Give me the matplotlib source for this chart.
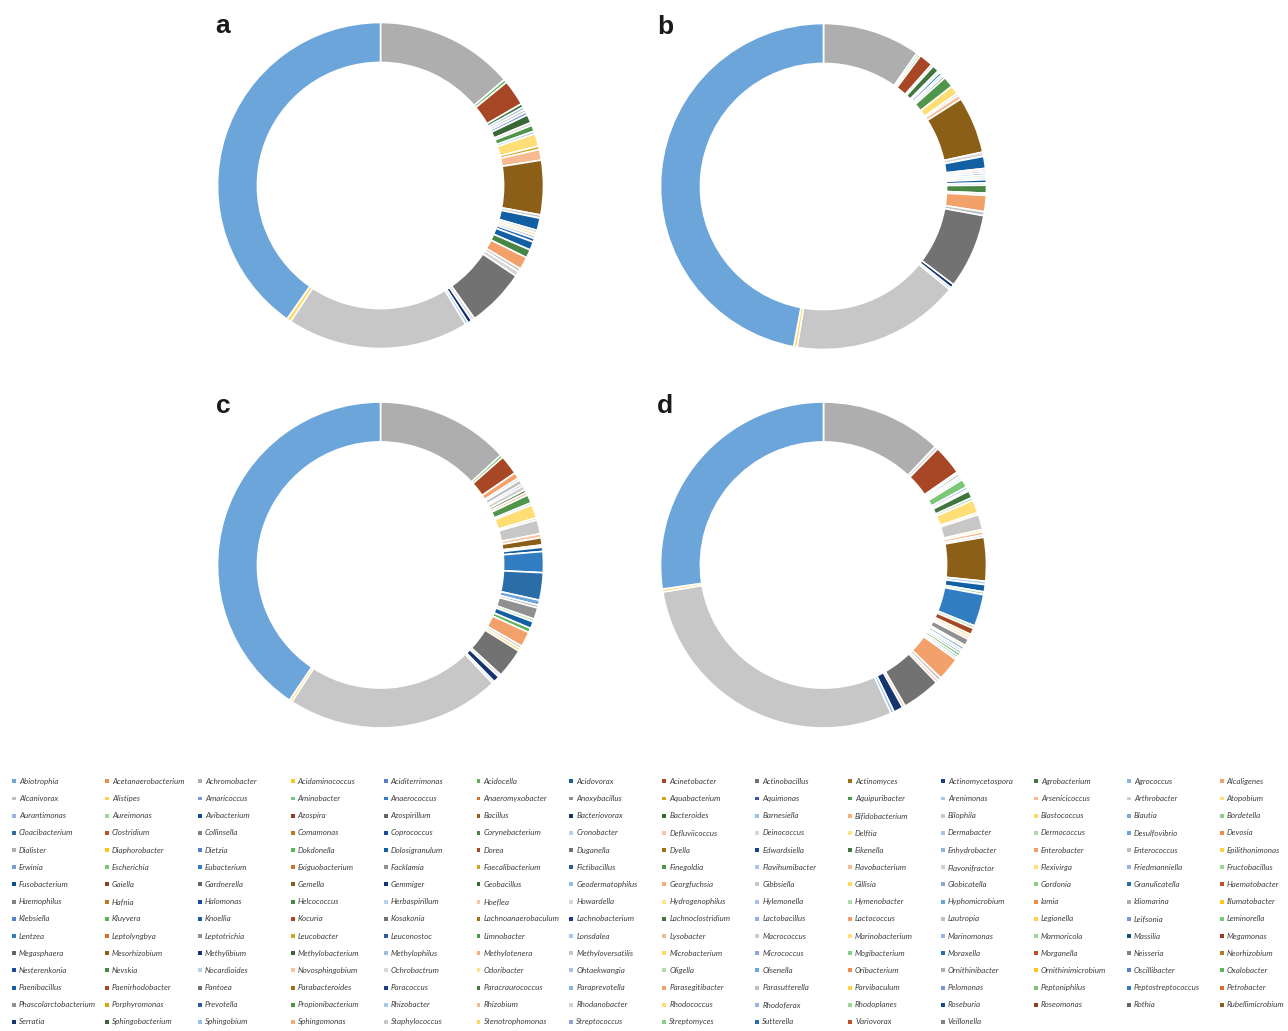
import colorsys
import matplotlib
matplotlib.use("Agg")
import matplotlib.pyplot as plt
from matplotlib.colors import to_rgb

# full genus list, in legend order (row by row, 14 per row)
genera = [
    "Abiotrophia", "Acetanaerobacterium", "Achromobacter", "Acidaminococcus", "Aciditerrimonas", "Acidocella", "Acidovorax",
    "Acinetobacter", "Actinobacillus", "Actinomyces", "Actinomycetospora", "Agrobacterium", "Agrococcus", "Alcaligenes",
    "Alcanivorax", "Alistipes", "Amaricoccus", "Aminobacter", "Anaerococcus", "Anaeromyxobacter", "Anoxybacillus",
    "Aquabacterium", "Aquimonas", "Aquipuribacter", "Arenimonas", "Arsenicicoccus", "Arthrobacter", "Atopobium",
    "Aurantimonas", "Aureimonas", "Avibacterium", "Azospira", "Azospirillum", "Bacillus", "Bacteriovorax",
    "Bacteroides", "Barnesiella", "Bifidobacterium", "Bilophila", "Blastococcus", "Blautia", "Bordetella",
    "Cloacibacterium", "Clostridium", "Collinsella", "Comamonas", "Coprococcus", "Corynebacterium", "Cronobacter",
    "Defluviicoccus", "Deinococcus", "Delftia", "Dermabacter", "Dermococcus", "Desulfovibrio", "Devosia",
    "Dialister", "Diaphorobacter", "Dietzia", "Dokdonella", "Dolosigranulum", "Dorea", "Duganella",
    "Dyella", "Edwardsiella", "Eikenella", "Enhydrobacter", "Enterobacter", "Enterococcus", "Epilithonimonas",
    "Erwinia", "Escherichia", "Eubacterium", "Exiguobacterium", "Facklamia", "Faecalibacterium", "Fictibacillus",
    "Finegoldia", "Flavihumibacter", "Flavobacterium", "Flavonifractor", "Flexivirga", "Friedmanniella", "Fructobacillus",
    "Fusobacterium", "Gaiella", "Gardnerella", "Gemella", "Gemmiger", "Geobacillus", "Geodermatophilus",
    "Georgfuchsia", "Gibbsiella", "Gillisia", "Globicatella", "Gordonia", "Granulicatella", "Haematobacter",
    "Haemophilus", "Hafnia", "Halomonas", "Helcococcus", "Herbaspirillum", "Hoeflea", "Howardella",
    "Hydrogenophilus", "Hylemonella", "Hymenobacter", "Hyphomicrobium", "Iamia", "Idiomarina", "Illumatobacter",
    "Klebsiella", "Kluyvera", "Knoellia", "Kocuria", "Kosakonia", "Lachnoanaerobaculum", "Lachnobacterium",
    "Lachnoclostridium", "Lactobacillus", "Lactococcus", "Lautropia", "Legionella", "Leifsonia", "Leminorella",
    "Lentzea", "Leptolyngbya", "Leptotrichia", "Leucobacter", "Leuconostoc", "Limnobacter", "Lonsdalea",
    "Lysobacter", "Macrococcus", "Marinobacterium", "Marinomonas", "Marmoricola", "Massilia", "Megamonas",
    "Megasphaera", "Mesorhizobium", "Methylibium", "Methylobacterium", "Methylophilus", "Methylotenera", "Methyloversatilis",
    "Microbacterium", "Micrococcus", "Mogibacterium", "Moraxella", "Morganella", "Neisseria", "Neorhizobium",
    "Nesterenkonia", "Nevskia", "Nocardioides", "Novosphingobium", "Ochrobactrum", "Odoribacter", "Ohtaekwangia",
    "Oligella", "Olsenella", "Oribacterium", "Ornithinibacter", "Ornithinimicrobium", "Oscillibacter", "Oxalobacter",
    "Paenibacillus", "Paenirhodobacter", "Pantoea", "Parabacteroides", "Paracoccus", "Paracraurococcus", "Paraprevotella",
    "Parasegitibacter", "Parasutterella", "Parvibaculum", "Pelomonas", "Peptoniphilus", "Peptostreptococcus", "Petrobacter",
    "Phascolarctobacterium", "Porphyromonas", "Prevotella", "Propionibacterium", "Rhizobacter", "Rhizobium", "Rhodanobacter",
    "Rhodococcus", "Rhodoferax", "Rhodoplanes", "Roseburia", "Roseomonas", "Rothia", "Rubellimicrobium",
    "Serratia", "Sphingobacterium", "Sphingobium", "Sphingomonas", "Staphylococcus", "Stenotrophomonas", "Streptococcus",
    "Streptomyces", "Sutterella", "Variovorax", "Veillonella",
]

# relative abundance (%) per sample, clockwise from 12 o'clock
a_genus = ["Achromobacter", "Acidocella", "Acinetobacter", "Agrobacterium", "Agrococcus", "Alcanivorax", "Amaricoccus",
           "Bacteroides", "Arthrobacter", "Aquipuribacter", "Arenimonas", "Atopobium", "Aquabacterium", "Arsenicicoccus",
           "Bacillus", "Bilophila", "Dolosigranulum", "Deinococcus", "Delftia", "Dermabacter", "Cloacibacterium",
           "Knoellia", "Corynebacterium", "Enterobacter", "Enterococcus", "Howardella", "Pantoea", "Ochrobactrum",
           "Serratia", "Sphingobium", "Staphylococcus", "Stenotrophomonas", "Abiotrophia"]
a_abund = [13.75, 0.33, 2.56, 0.36, 0.28, 0.28, 0.31, 0.83, 0.28, 0.61, 0.28, 1.25, 0.33, 1.06,
           5.39, 0.33, 1.22, 0.28, 0.28, 0.28, 0.36, 0.83, 0.83, 1.25, 0.33, 0.50, 5.83, 0.33,
           0.42, 0.28, 18.06, 0.42, 40.28]

b_genus = ["Achromobacter", "Aminobacter", "Acidocella", "Acinetobacter", "Alcanivorax", "Agrobacterium", "Arthrobacter",
           "Anaerococcus", "Arenimonas", "Bacteroides", "Aquipuribacter", "Atopobium", "Bilophila", "Arsenicicoccus",
           "Bacillus", "Deinococcus", "Dolosigranulum", "Defluviicoccus", "Dermabacter", "Desulfovibrio", "Dermococcus",
           "Cronobacter", "Knoellia", "Dialister", "Corynebacterium", "Howardella", "Enterobacter", "Enterococcus",
           "Pantoea", "Serratia", "Sphingobium", "Staphylococcus", "Stenotrophomonas", "Abiotrophia"]
b_abund = [9.72, 0.22, 0.22, 1.39, 0.22, 0.67, 0.22, 0.28, 0.22, 0.22, 1.06, 0.89, 0.22, 0.42,
           5.64, 0.42, 1.19, 0.22, 0.22, 0.22, 0.22, 0.22, 0.33, 0.22, 0.78, 0.22, 1.61, 0.39,
           7.42, 0.39, 0.22, 16.69, 0.33, 47.06]

c_genus = ["Achromobacter", "Acidocella", "Acinetobacter", "Alcaligenes", "Agrococcus", "Alcanivorax", "Amaricoccus",
           "Arthrobacter", "Agrobacterium", "Arsenicicoccus", "Aquipuribacter", "Arenimonas", "Atopobium", "Hymenobacter",
           "Bilophila", "Defluviicoccus", "Bacillus", "Delftia", "Acidovorax", "Anaerococcus", "Cloacibacterium",
           "Desulfovibrio", "Dialister", "Facklamia", "Dermococcus", "Knoellia", "Dokdonella", "Enterobacter",
           "Enterococcus", "Epilithonimonas", "Pantoea", "Ochrobactrum", "Serratia", "Sphingobium", "Staphylococcus",
           "Stenotrophomonas", "Abiotrophia"]
c_abund = [13.22, 0.28, 1.94, 0.61, 0.22, 0.44, 0.22, 0.44, 0.28, 0.28, 0.83, 0.22, 1.33, 0.22,
           1.39, 0.39, 0.72, 0.22, 0.42, 2.08, 2.72, 0.50, 0.28, 1.14, 0.28, 0.69, 0.44, 1.50,
           0.28, 0.28, 2.92, 0.28, 0.64, 0.22, 21.22, 0.28, 40.56]

d_genus = ["Achromobacter", "Ochrobactrum", "Acinetobacter", "Deinococcus", "Bacteroides", "Howardella", "Cronobacter",
           "Aminobacter", "Arenimonas", "Hylemonella", "Agrobacterium", "Oligella", "Atopobium", "Delftia",
           "Bilophila", "Alistipes", "Arsenicicoccus", "Dermabacter", "Bacillus", "Nocardioides", "Dolosigranulum",
           "Dermococcus", "Anaerococcus", "Hymenobacter", "Dorea", "Odoribacter", "Defluviicoccus", "Facklamia",
           "Hydrogenophilus", "Desulfovibrio", "Dialister", "Knoellia", "Dokdonella", "Corynebacterium", "Ohtaekwangia",
           "Enterobacter", "Enterococcus", "Hoeflea", "Pantoea", "Novosphingobium", "Serratia", "Sphingobium",
           "Staphylococcus", "Stenotrophomonas", "Abiotrophia"]
d_abund = [12.03, 0.33, 2.97, 0.22, 0.22, 0.22, 0.22, 0.83, 0.28, 0.17, 0.72, 0.28, 1.28, 0.22,
           1.50, 0.22, 0.33, 0.22, 4.33, 0.33, 0.72, 0.28, 3.17, 0.28, 0.64, 0.28, 0.25, 0.67,
           0.22, 0.28, 0.22, 0.22, 0.28, 0.22, 0.22, 2.33, 0.33, 0.28, 3.83, 0.28, 0.94, 0.33,
           29.14, 0.28, 27.36]

panels = ["a", "b", "c", "d"]
samples = [(a_genus, a_abund), (b_genus, b_abund), (c_genus, c_abund), (d_genus, d_abund)]

# Office-style series colours: 6 accents, cycled through luminance variants
accents = ["#5B9BD5", "#ED7D31", "#A5A5A5", "#FFC000", "#4472C4", "#70AD47"]
lum_steps = [(1, 0), (0.6, 0), (0.8, 0.2), (0.8, 0), (0.6, 0.4), (0.5, 0), (0.7, 0.3), (0.7, 0), (0.5, 0.5)]


def print_tone(h, l, s):
    # rough match of the printed figure: greens lean bluer, dark warm tones redder,
    # dark blues deeper, greys lifted
    if 0.2 < h < 0.4:
        h += 0.06
    if h < 0.15 and l < 0.4 and s > 0:
        h = max(0.0, h - 0.023)
    if 0.5 < h < 0.7 and l < 0.4:
        return colorsys.hls_to_rgb(h, l, min(1.0, s * 1.35))
    rgb = colorsys.hls_to_rgb(h, l, s)
    if 0.5 < h < 0.7 and l < 0.5:
        return rgb
    return tuple(min(1.0, 24 / 255 + 0.91 * v) for v in rgb)


def series_color(i):
    h, l, s = colorsys.rgb_to_hls(*to_rgb(accents[i % 6]))
    mod, off = lum_steps[(i // 6) % len(lum_steps)]
    return print_tone(h, l * mod + off, s)


palette = {name: series_color(i) for i, name in enumerate(genera)}

W, H = 1288, 1031
fig = plt.figure(figsize=(W / 100, H / 100), dpi=100)

# overlay in pixel coords for legend + panel letters
ov = fig.add_axes([0, 0, 1, 1])
ov.set_xlim(0, W)
ov.set_ylim(H, 0)
ov.axis("off")

centers = [(380.5, 185.5), (823.5, 186.5), (380.5, 565.0), (823.5, 565.0)]
letter_pos = [(215, 33), (657, 34), (216, 413), (657, 413)]
R = 163

for (cx, cy), (gen, ab), lab, (lx, ly) in zip(centers, samples, panels, letter_pos):
    ax = fig.add_axes([(cx - R) / W, 1 - (cy + R) / H, 2 * R / W, 2 * R / H])
    ax.pie(ab, colors=[palette[g] for g in gen], startangle=90, counterclock=False,
           wedgeprops=dict(width=0.245, edgecolor="white", linewidth=1.2))
    ax.set_xlim(-1, 1)
    ax.set_ylim(-1, 1)
    ax.set_aspect("equal")
    ov.text(lx, ly, lab, fontsize=19, fontweight="bold", family=["Liberation Sans", "DejaVu Sans"],
            va="baseline", ha="left", color="#1a1a1a")

# legend, 14 columns, row-major
ncol = 14
xs, ys = [], []
for i, name in enumerate(genera):
    r, c = divmod(i, ncol)
    x = 14 + c * 92.9
    y = 781.3 + r * 17.19
    xs.append(x)
    ys.append(y)
    ov.text(x + 5, y, name, fontsize=5.8, style="italic", family=["Lato", "DejaVu Sans"],
            va="center", ha="left", color="#404040")
ov.scatter(xs, ys, marker="s", s=8, c=[palette[g] for g in genera], linewidths=0)

fig.savefig("out.png", dpi=100)
